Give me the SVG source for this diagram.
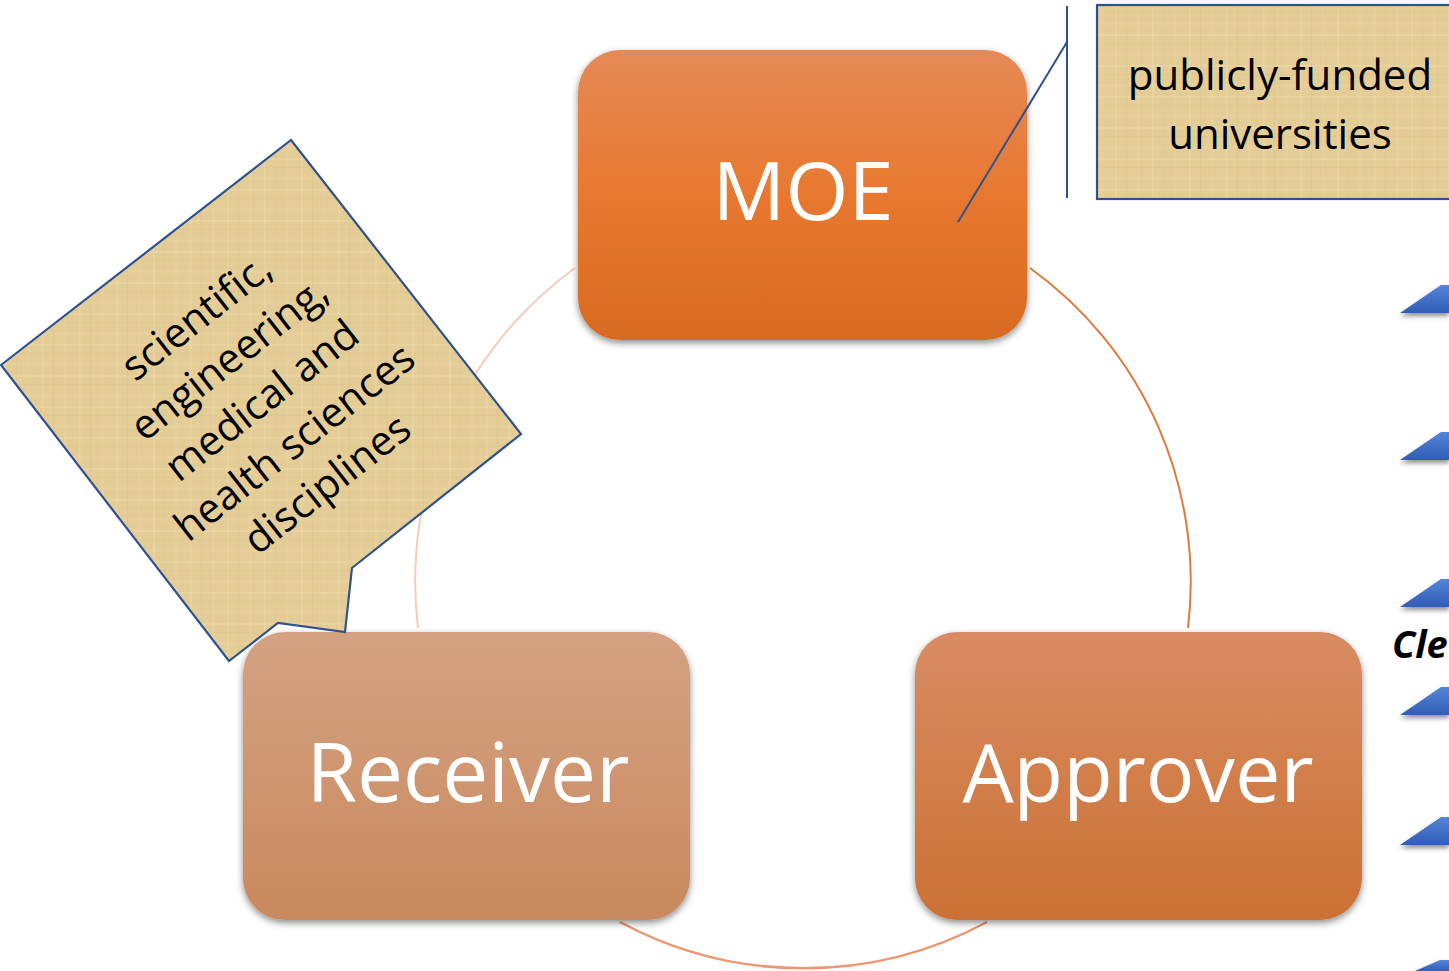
<svg xmlns="http://www.w3.org/2000/svg" width="1449" height="971" viewBox="0 0 1449 971">
<defs>
<style>
.lbl{font-family:"Open Sans","Liberation Sans",sans-serif;fill:#fff;text-anchor:middle}
.note{font-family:"Open Sans","Liberation Sans",sans-serif;fill:#000;text-anchor:middle}
.arc{fill:none}
.edge{fill:url(#papyrus);stroke:#2F528F;stroke-width:2.2}
.wedge{fill:url(#blue);filter:url(#wsh)}
</style>
<linearGradient id="gMoe" x1="0" y1="0" x2="0" y2="1">
<stop offset="0" stop-color="#E58A57"/><stop offset="0.5" stop-color="#E8782F"/><stop offset="1" stop-color="#D86A21"/>
</linearGradient>
<linearGradient id="gRec" x1="0" y1="0" x2="0" y2="1">
<stop offset="0" stop-color="#D4A282"/><stop offset="1" stop-color="#C9895E"/>
</linearGradient>
<linearGradient id="gApp" x1="0" y1="0" x2="0" y2="1">
<stop offset="0" stop-color="#D98C63"/><stop offset="1" stop-color="#CB7134"/>
</linearGradient>
<linearGradient id="blue" x1="0" y1="0" x2="0" y2="1">
<stop offset="0" stop-color="#5585D8"/><stop offset="1" stop-color="#2F5DB5"/>
</linearGradient>
<pattern id="papyrus" patternUnits="userSpaceOnUse" width="37" height="31">
<rect width="37" height="31" fill="#E4CC96"/>
<rect x="0" y="3" width="37" height="2" fill="#ECD9AA" opacity="0.5"/>
<rect x="0" y="12" width="37" height="1" fill="#D9C086" opacity="0.4"/>
<rect x="0" y="22" width="37" height="3" fill="#EAD5A4" opacity="0.4"/>
<rect x="5" y="0" width="1.5" height="31" fill="#EEDDB2" opacity="0.45"/>
<rect x="16" y="0" width="1" height="31" fill="#D6BC82" opacity="0.35"/>
<rect x="27" y="0" width="2.5" height="31" fill="#E9D4A2" opacity="0.4"/>
</pattern>
<filter id="sh" x="-10%" y="-10%" width="120%" height="125%">
<feDropShadow dx="0" dy="3" stdDeviation="3.5" flood-color="#000" flood-opacity="0.45"/>
</filter>
<filter id="wsh" x="-20%" y="-30%" width="140%" height="200%">
<feDropShadow dx="0" dy="3" stdDeviation="2.5" flood-color="#000" flood-opacity="0.45"/>
</filter>
</defs>
<rect width="1449" height="971" fill="#fff"/>

<g id="connectors">
<path class="arc" d="M1030,268 A387,387 0 0 1 1188,628" stroke="#E07A3C" stroke-width="2"/>
<path class="arc" d="M987,922 A387,387 0 0 1 620,922" stroke="#EE9670" stroke-width="2.5"/>
<path class="arc" d="M418,628 A387,387 0 0 1 575,268" stroke="#F5CBB9" stroke-width="2"/>
</g>

<g id="node-moe">
<rect x="578" y="50" width="449" height="290" rx="42" fill="url(#gMoe)" filter="url(#sh)"/>
<text class="lbl" x="803" y="220" font-size="81">MOE</text>
</g>

<g id="node-receiver">
<rect x="243" y="632" width="447" height="288" rx="42" fill="url(#gRec)" filter="url(#sh)"/>
<text class="lbl" x="468" y="802" font-size="82">Receiver</text>
</g>

<g id="node-approver">
<rect x="915" y="632" width="447" height="288" rx="42" fill="url(#gApp)" filter="url(#sh)"/>
<text class="lbl" x="1138" y="802" font-size="81">Approver</text>
</g>

<g id="callout-universities">
<line x1="1067" y1="6" x2="1067" y2="198" stroke="#2F528F" stroke-width="2"/>
<line x1="1067" y1="42" x2="958" y2="222" stroke="#2F528F" stroke-width="2"/>
<rect class="edge" x="1097" y="5" width="360" height="194"/>
<text class="note" font-size="42"><tspan x="1280" y="90">publicly-funded</tspan><tspan x="1280" y="149">universities</tspan></text>
</g>

<g id="callout-disciplines">
<path class="edge" d="M291,140 L521,434 L352,568 L345,632 L278,623 L229,661 L1,365 Z"/>
<g transform="translate(263,402) rotate(-38)">
<text class="note" font-size="41"><tspan x="0" y="-94">scientific,</tspan><tspan x="0" y="-41">engineering,</tspan><tspan x="0" y="12">medical and</tspan><tspan x="0" y="65">health sciences</tspan><tspan x="0" y="118">disciplines</tspan></text>
</g>
</g>

<g id="side-wedges">
<path class="wedge" d="M1400,313 L1441,285 L1449,285 L1449,313 Z"/>
<path class="wedge" d="M1400,460 L1441,432 L1449,432 L1449,460 Z"/>
<path class="wedge" d="M1400,607 L1441,579 L1449,579 L1449,607 Z"/>
<path class="wedge" d="M1400,715 L1441,687 L1449,687 L1449,715 Z"/>
<path class="wedge" d="M1400,845 L1441,817 L1449,817 L1449,845 Z"/>
<path class="wedge" d="M1415,971 L1440,960 L1449,960 L1449,971 Z"/>
<text x="1392" y="658" font-family="Open Sans, Liberation Sans, sans-serif" font-size="38" font-weight="bold" font-style="italic" fill="#000">Cle</text>
</g>
</svg>
